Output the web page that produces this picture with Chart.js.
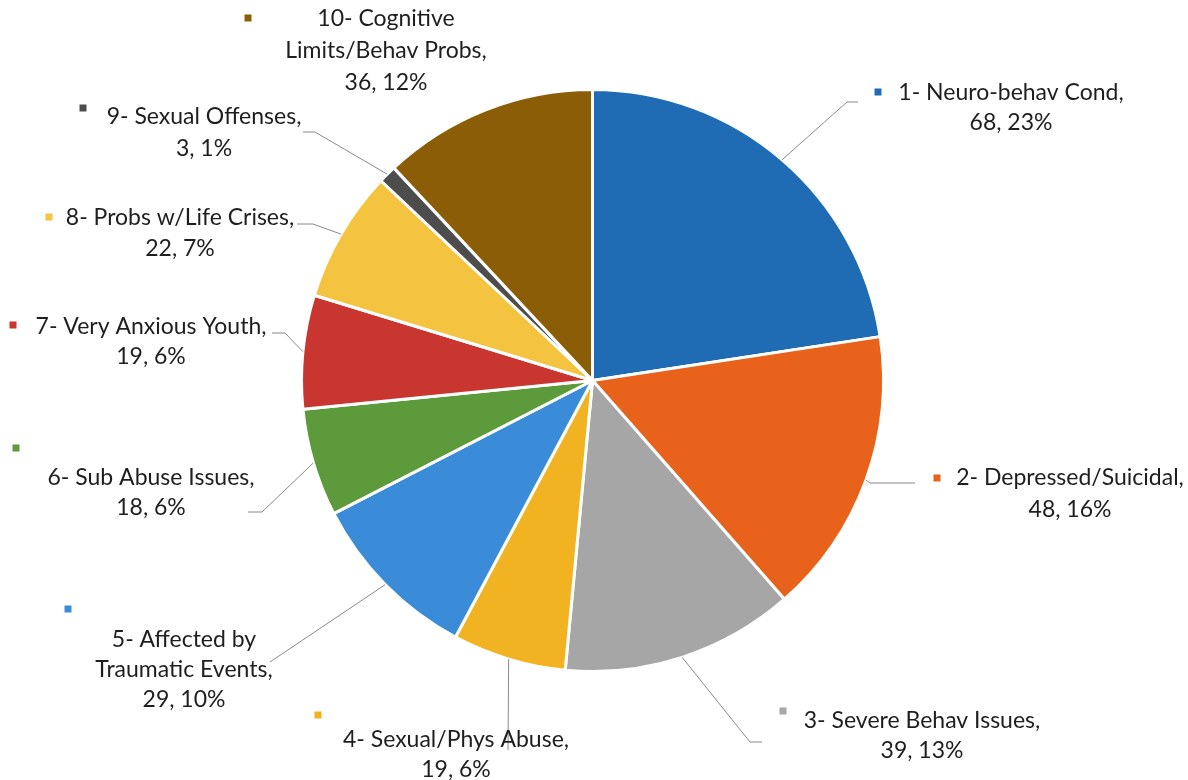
<!DOCTYPE html>
<html>
<head>
<meta charset="utf-8">
<script src="https://cdn.jsdelivr.net/npm/chart.js@4.4.0/dist/chart.umd.min.js"></script>
<style>
  html, body { margin: 0; padding: 0; background: #ffffff; }
  #wrap { width: 1188px; height: 780px; position: relative; }
</style>
</head>
<body>
<div id="wrap"><canvas id="c" width="1188" height="780"></canvas></div>
<script>
// ---- data ----
const categories = [
  ["1- Neuro-behav Cond"],
  ["2- Depressed/Suicidal"],
  ["3- Severe Behav Issues"],
  ["4- Sexual/Phys Abuse"],
  ["5- Affected by", "Traumatic Events"],
  ["6- Sub Abuse Issues"],
  ["7- Very Anxious Youth"],
  ["8- Probs w/Life Crises"],
  ["9- Sexual Offenses"],
  ["10- Cognitive", "Limits/Behav Probs"]
];
const counts = [68, 48, 39, 19, 29, 18, 19, 22, 3, 36];
const sliceColors = ["#1F6CB4", "#E8621B", "#A6A6A6", "#F1B321", "#3A8CD8",
                     "#5C9A3B", "#C9352F", "#F4C33F", "#4D4D4D", "#8B5D06"];

// ---- label layout (positions only) ----
const labelLayout = [
  { cx: 1011, ys: [93, 123],       marker: [878, 92],  leader: [[847, 102], [858, 102]] },
  { cx: 1070, ys: [478, 510],      marker: [937, 478], leader: [[870, 483], [915, 483]] },
  { cx: 922,  ys: [721, 751],      marker: [783, 711], leader: [[750, 742], [762, 742]] },
  { cx: 456,  ys: [740, 770],      marker: [318, 715], leader: [[508, 750]] },
  { cx: 184,  ys: [640, 670, 700], marker: [68, 609],  leader: [[270, 662]] },
  { cx: 151,  ys: [478, 508],      marker: [16, 448],  leader: [[262, 512], [248, 512]] },
  { cx: 151,  ys: [327, 357],      marker: [13, 325],  leader: [[285, 333], [272, 333]] },
  { cx: 180,  ys: [218, 249],      marker: [49, 217],  leader: [[313, 224], [297, 224]] },
  { cx: 204,  ys: [117, 149],      marker: [83, 108],  leader: [[315, 132], [303, 132]] },
  { cx: 386,  ys: [19, 51, 83],    marker: [248, 18],  leader: [] }
];

const total = counts.reduce((a, b) => a + b, 0);

const labelPlugin = {
  id: 'outLabels',
  afterDatasetsDraw(chart) {
    const ctx = chart.ctx;
    const meta = chart.getDatasetMeta(0);
    ctx.save();
    meta.data.forEach((arc, i) => {
      const p = arc.getProps(['x', 'y', 'startAngle', 'endAngle', 'outerRadius'], true);
      const mid = (p.startAngle + p.endAngle) / 2;
      const ax = p.x + Math.cos(mid) * p.outerRadius;
      const ay = p.y + Math.sin(mid) * p.outerRadius;
      const L = labelLayout[i];
      if (L.leader.length) {
        ctx.beginPath();
        ctx.moveTo(ax, ay);
        L.leader.forEach(pt => ctx.lineTo(pt[0], pt[1]));
        ctx.strokeStyle = '#8a8a8a';
        ctx.lineWidth = 1;
        ctx.stroke();
      }
      ctx.fillStyle = sliceColors[i];
      ctx.fillRect(L.marker[0] - 3.5, L.marker[1] - 3.5, 7, 7);
      const name = categories[i].slice();
      name[name.length - 1] = name[name.length - 1] + ',';
      const pct = Math.round(counts[i] / total * 100);
      const lines = name.concat([counts[i] + ', ' + pct + '%']);
      ctx.fillStyle = '#1e1e1e';
      ctx.font = '23px Lato, "Liberation Sans", sans-serif';
      ctx.textAlign = 'center';
      ctx.textBaseline = 'middle';
      lines.forEach((t, k) => ctx.fillText(t, L.cx, L.ys[k]));
    });
    ctx.restore();
  }
};

new Chart(document.getElementById('c'), {
  type: 'pie',
  data: {
    labels: categories,
    datasets: [{
      data: counts,
      backgroundColor: sliceColors,
      borderColor: '#ffffff',
      borderWidth: 3
    }]
  },
  options: {
    responsive: false,
    animation: false,
    rotation: 0,
    layout: { padding: { left: 300, right: 303, top: 88, bottom: 107 } },
    plugins: {
      legend: { display: false },
      tooltip: { enabled: false },
      title: { display: false }
    }
  },
  plugins: [labelPlugin]
});
</script>
</body>
</html>
